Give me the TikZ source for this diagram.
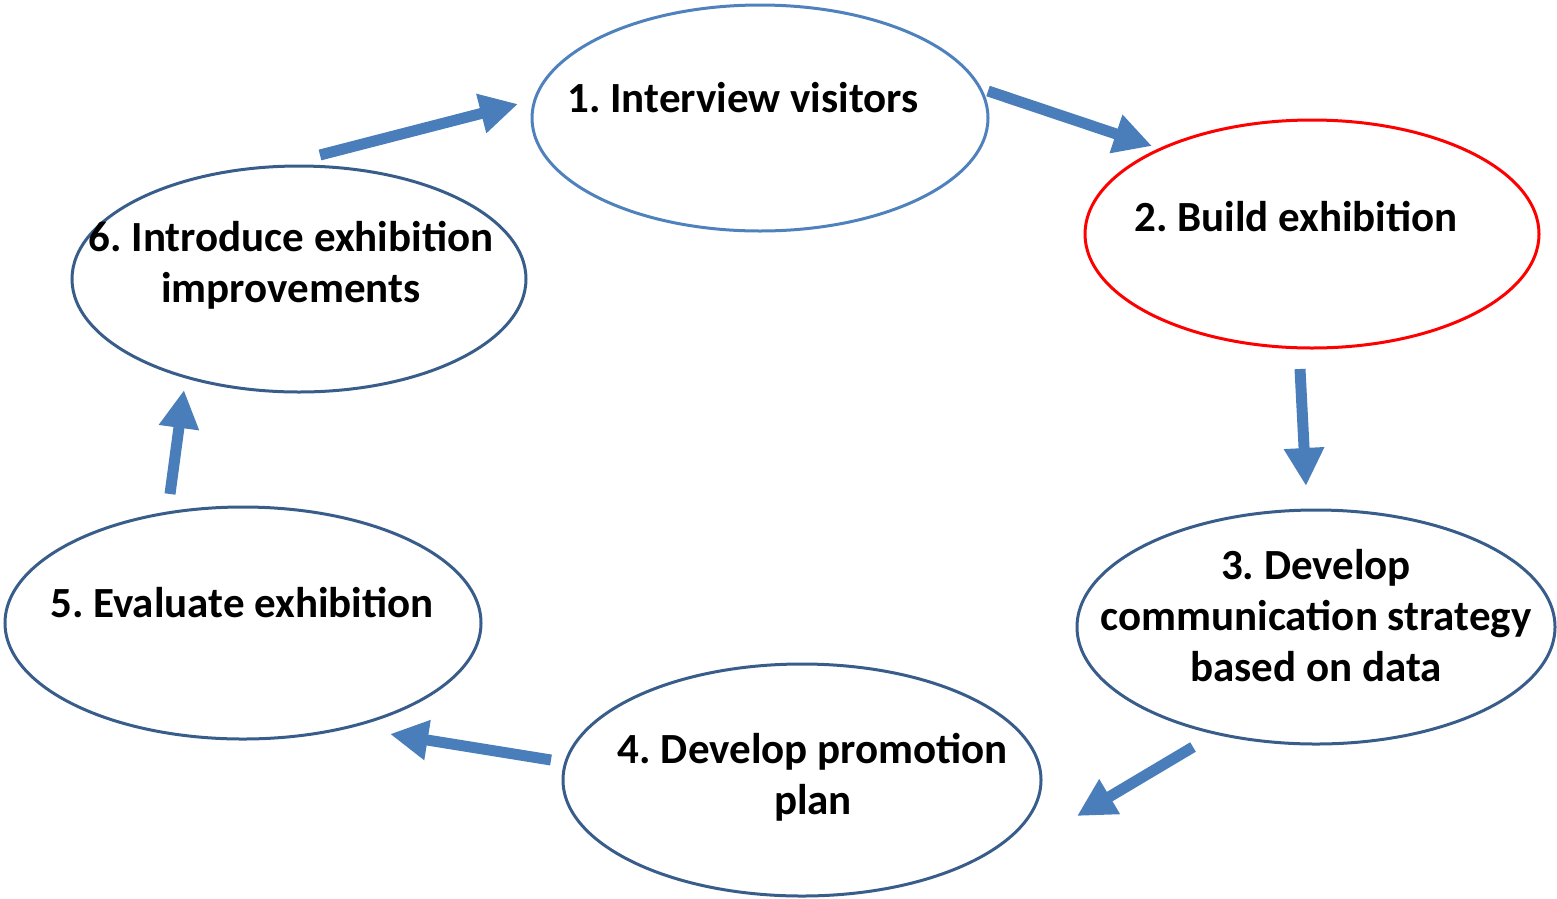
\documentclass[tikz,border=0pt]{standalone}
\usepackage{fontspec}
\setmainfont{Carlito}
\usetikzlibrary{arrows.meta}
\definecolor{lightblue}{HTML}{4F81BD}
\definecolor{darkblue}{HTML}{385D8A}
\definecolor{arrowblue}{HTML}{4A7EBB}
\frenchspacing
\tikzset{
  oval/.style={draw, line width=3pt},
  lbl/.style={font=\fontsize{43}{51}\selectfont\bfseries, align=center, inner sep=0pt},
  flow/.style={draw=arrowblue, line width=11pt, -{Triangle[width=38pt,length=38pt]}}
}
\begin{document}
\begin{tikzpicture}[x=1pt,y=-1pt]
\useasboundingbox (0,0) rectangle (1557,898);
% ellipses
\draw[oval, draw=lightblue] (760,118) ellipse (228 and 113);
\draw[oval, draw=red] (1312,234) ellipse (227 and 114);
\draw[oval, draw=darkblue] (1316,627) ellipse (239 and 117);
\draw[oval, draw=darkblue] (802,780) ellipse (239 and 116);
\draw[oval, draw=darkblue] (243,623) ellipse (238 and 116);
\draw[oval, draw=darkblue] (299,279) ellipse (227 and 113);
% labels
\node[lbl] (n1) at (743,98) {1. Interview visitors};
\node[lbl] (n2) at (1296,217) {2. Build exhibition};
\node[lbl] (n3) at (1316,616) {3. Develop\\communication strategy\\based on data};
\node[lbl] (n4) at (813,777) {4. Develop promotion\\plan};
\node[lbl] (n5) at (242,603) {5. Evaluate exhibition};
\node[lbl] (n6) at (291,265) {6. Introduce exhibition\\improvements};
% arrow coordinates
\coordinate (a6s) at (320,155); \coordinate (a6e) at (518,104);
\coordinate (a1s) at (988,91);  \coordinate (a1e) at (1152,146);
\coordinate (a2s) at (1300,369); \coordinate (a2e) at (1306,486);
\coordinate (a3s) at (1193,747); \coordinate (a3e) at (1077,816);
\coordinate (a4s) at (551,760); \coordinate (a4e) at (390,734);
\coordinate (a5s) at (170,494); \coordinate (a5e) at (184,390);
\draw[flow] (a6s) -- (a6e);
\draw[flow] (a1s) -- (a1e);
\draw[flow] (a2s) -- (a2e);
\draw[flow] (a3s) -- (a3e);
\draw[flow] (a4s) -- (a4e);
\draw[flow] (a5s) -- (a5e);
\end{tikzpicture}
\end{document}
